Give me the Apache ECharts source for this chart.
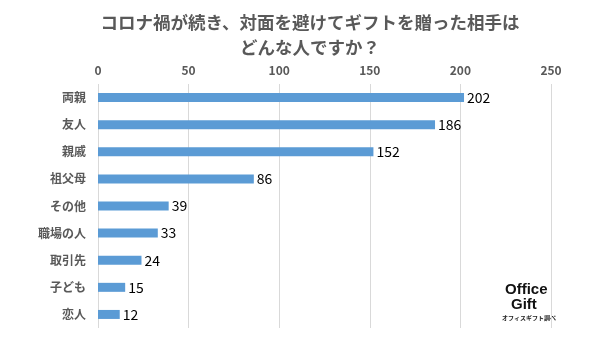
<!DOCTYPE html>
<html><head><meta charset="utf-8">
<script src="https://cdn.jsdelivr.net/npm/echarts@6/dist/echarts.min.js"></script>
<style>html,body{margin:0;padding:0;background:#fff}#c{width:602px;height:339px}</style>
</head><body><div id="c"></div>
<script>
const categories = ['両親','友人','親戚','祖父母','その他','職場の人','取引先','子ども','恋人'];
const values = [202,186,152,86,39,33,24,15,12];
const titleText = 'コロナ禍が続き、対面を避けてギフトを贈った相手は\nどんな人ですか？';
const chart = echarts.init(document.getElementById('c'));
const ff = '"Noto Sans CJK JP", "Noto Sans", sans-serif';
chart.setOption({
  backgroundColor:'#fff',
  title:{text:titleText,left:305,textAlign:'center',top:5,
    textStyle:{fontFamily:ff,fontSize:17.5,fontWeight:'bold',color:'#595959',lineHeight:25}},
  grid:{left:98,right:51,top:84,bottom:11,containLabel:false},
  xAxis:{type:'value',position:'top',min:0,max:250,interval:50,
    axisLine:{show:false},axisTick:{show:false},
    axisLabel:{fontFamily:ff,fontSize:12,color:'#595959',margin:8,fontWeight:'bold'},
    splitLine:{lineStyle:{color:'#d9d9d9',width:1}}},
  yAxis:{type:'category',data:categories,inverse:true,
    axisLine:{show:false},axisTick:{show:false},
    axisLabel:{fontFamily:ff,fontSize:12,color:'#595959',fontWeight:'bold',margin:12}},
  series:[{type:'bar',data:values,barWidth:9,itemStyle:{color:'#5b9bd5'},
    label:{show:true,position:'right',distance:3,fontFamily:ff,fontSize:14,color:'#000'}}],
  graphic:[
    {type:'rect',left:497,top:263,shape:{width:52,height:64},style:{fill:'#fff'}},
    {type:'text',left:505,top:282,style:{text:'Office',font:'bold 15px "Liberation Sans", Arial, sans-serif',fill:'#111'}},
    {type:'text',left:511,top:297,style:{text:'Gift',font:'bold 15px "Liberation Sans", Arial, sans-serif',fill:'#111'}},
    {type:'text',left:502,top:315,style:{text:'オフィスギフト調べ',font:'bold 6px "Noto Sans CJK JP", sans-serif',fill:'#222'}}
  ]
});
</script></body></html>
